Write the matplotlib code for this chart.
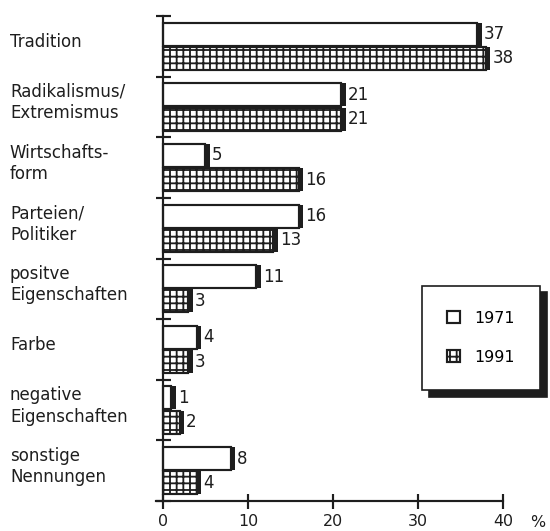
from __future__ import annotations

import matplotlib

matplotlib.use("Agg")
import matplotlib.pyplot as plt
import numpy as np
from matplotlib.transforms import blended_transform_factory

CATEGORIES = [
    "Tradition",
    "Radikalismus/\nExtremismus",
    "Wirtschafts-\nform",
    "Parteien/\nPolitiker",
    "positve\nEigenschaften",
    "Farbe",
    "negative\nEigenschaften",
    "sonstige\nNennungen",
]
VALUES_1971 = [37, 21, 5, 16, 11, 4, 1, 8]
VALUES_1991 = [38, 21, 16, 13, 3, 3, 2, 4]
YEARS = ["1971", "1991"]
X_TICKS = [0, 10, 20, 30, 40]

INK = "#1e1e1e"
DPI = 120


def _draw_bars(axis, positions, values, *, hatch: str | None, label: str) -> None:
    axis.barh(
        positions,
        values,
        height=0.38,
        color="white",
        edgecolor=INK,
        linewidth=1.3,
        hatch=hatch,
        label=label,
        zorder=2,
    )
    # thick dark right edge, like the shaded end of the printed bars
    axis.barh(positions, 0.5, left=values, height=0.38, color=INK, linewidth=0, zorder=3)
    for y, value in zip(positions, values):
        axis.text(value + 0.75, y, str(value), va="center", ha="left", fontsize=10, color=INK)


def main() -> int:
    plt.rcParams["font.family"] = ["DejaVu Sans"]
    plt.rcParams["hatch.linewidth"] = 1.1
    plt.rcParams["hatch.color"] = INK

    figure = plt.figure(figsize=(550 / DPI, 531 / DPI), dpi=DPI)
    axis = figure.add_axes([156 / 550, 1 - 501 / 531, 347 / 550, 485 / 531])

    groups = np.arange(len(CATEGORIES))
    _draw_bars(axis, groups - 0.2, VALUES_1971, hatch=None, label=YEARS[0])
    _draw_bars(axis, groups + 0.2, VALUES_1991, hatch="+++", label=YEARS[1])

    axis.set_xlim(-0.8, 40)
    axis.set_ylim(len(CATEGORIES) - 0.5, -0.5)
    axis.spines["left"].set_position(("data", 0))
    for side in ("top", "right"):
        axis.spines[side].set_visible(False)
    for side in ("left", "bottom"):
        axis.spines[side].set_color(INK)
        axis.spines[side].set_linewidth(1.3)

    axis.set_xticks(X_TICKS)
    axis.set_yticks(np.arange(len(CATEGORIES) + 1) - 0.5)
    axis.set_yticklabels([])
    axis.tick_params(axis="both", direction="inout", length=9, width=1.3, color=INK)
    axis.tick_params(axis="x", labelsize=9.5, labelcolor=INK, pad=3.5)

    label_transform = blended_transform_factory(axis.transAxes, axis.transData)
    for y, name in zip(groups, CATEGORIES):
        axis.text(-0.421, y - 0.07, name, transform=label_transform, ha="left", va="center",
                  fontsize=10, color=INK, linespacing=1.25)
    axis.text(1.1, -0.028, "%", transform=axis.transAxes, ha="center", va="top",
              fontsize=9.5, color=INK)

    axis.legend(
        loc="lower left",
        bbox_to_anchor=(0.767, 0.229),
        frameon=True,
        fancybox=False,
        edgecolor=INK,
        framealpha=1,
        shadow={"ox": 4, "oy": -4, "color": INK, "alpha": 1},
        fontsize=9.5,
        borderpad=1.6,
        labelspacing=1.5,
        handlelength=0.8,
        handleheight=0.8,
        handletextpad=0.9,
        borderaxespad=0,
    )

    figure.savefig("out.png", dpi=DPI, facecolor="white")
    plt.close(figure)
    return 0


if __name__ == "__main__":
    raise SystemExit(main())
